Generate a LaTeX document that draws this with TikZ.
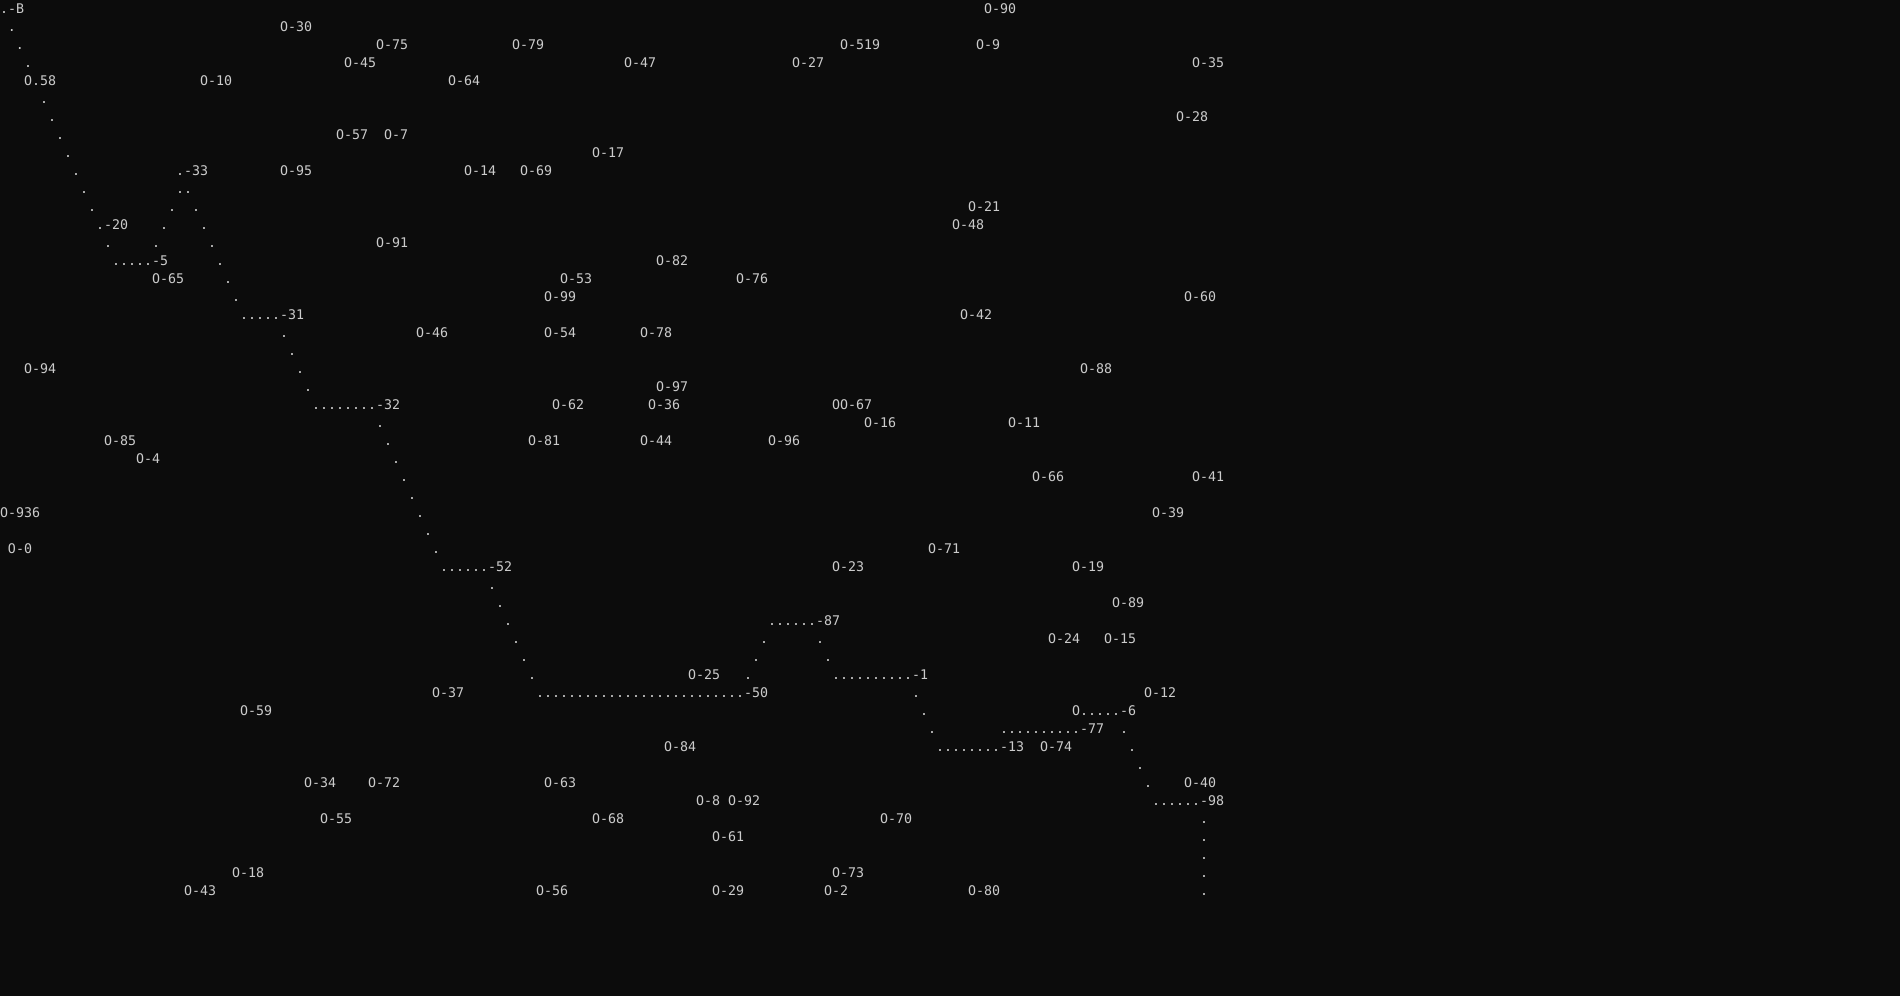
\documentclass[tikz,border=0pt]{standalone}
\usepackage{fontspec}
\usepackage{tikz}
\usepackage{xcolor}
\newfontfamily\termfont{DejaVu Sans Mono}
\definecolor{termbg}{HTML}{0C0C0C}
\definecolor{termfg}{HTML}{CCCCCC}

\begin{document}
\begin{tikzpicture}[x=8pt, y=-18pt,
        cell/.style = {anchor=base west, inner sep=0pt, outer sep=0pt, yshift=-13.5pt,
                       text=termfg, font=\termfont\fontsize{13.29pt}{18pt}\selectfont}
        ]
        \fill[termbg] (0pt,0pt) rectangle (1900pt,-996pt);
        % rows 0-9
        \node[cell] (B) at (0,0) {.-B};
        \node[cell] (90) at (123,0) {O-90};
        \node[cell] (d1) at (1,1) {.};
        \node[cell] (30) at (35,1) {O-30};
        \node[cell] (d2) at (2,2) {.};
        \node[cell] (75) at (47,2) {O-75};
        \node[cell] (79) at (64,2) {O-79};
        \node[cell] (519) at (105,2) {O-519};
        \node[cell] (9) at (122,2) {O-9};
        \node[cell] (d3) at (3,3) {.};
        \node[cell] (45) at (43,3) {O-45};
        \node[cell] (47) at (78,3) {O-47};
        \node[cell] (27) at (99,3) {O-27};
        \node[cell] (35) at (149,3) {O-35};
        \node[cell] (58) at (3,4) {O.58};
        \node[cell] (10) at (25,4) {O-10};
        \node[cell] (64) at (56,4) {O-64};
        \node[cell] (d5) at (5,5) {.};
        \node[cell] (d6) at (6,6) {.};
        \node[cell] (28) at (147,6) {O-28};
        \node[cell] (d7) at (7,7) {.};
        \node[cell] (57) at (42,7) {O-57};
        \node[cell] (7) at (48,7) {O-7};
        \node[cell] (d8) at (8,8) {.};
        \node[cell] (17) at (74,8) {O-17};
        \node[cell] (d9) at (9,9) {.};
        \node[cell] (33) at (22,9) {.-33};
        \node[cell] (95) at (35,9) {O-95};
        \node[cell] (14) at (58,9) {O-14};
        \node[cell] (69) at (65,9) {O-69};
        % rows 10-19
        \node[cell] (d10) at (10,10) {.};
        \node[cell] (d10a) at (22,10) {..};
        \node[cell] (d11) at (11,11) {.};
        \node[cell] (d11a) at (21,11) {.};
        \node[cell] (d11b) at (24,11) {.};
        \node[cell] (21) at (121,11) {O-21};
        \node[cell] (20) at (12,12) {.-20};
        \node[cell] (d12a) at (20,12) {.};
        \node[cell] (d12b) at (25,12) {.};
        \node[cell] (48) at (119,12) {O-48};
        \node[cell] (d13) at (13,13) {.};
        \node[cell] (d13a) at (19,13) {.};
        \node[cell] (d13b) at (26,13) {.};
        \node[cell] (91) at (47,13) {O-91};
        \node[cell] (5) at (14,14) {.....-5};
        \node[cell] (d14) at (27,14) {.};
        \node[cell] (82) at (82,14) {O-82};
        \node[cell] (65) at (19,15) {O-65};
        \node[cell] (d15) at (28,15) {.};
        \node[cell] (53) at (70,15) {O-53};
        \node[cell] (76) at (92,15) {O-76};
        \node[cell] (d16) at (29,16) {.};
        \node[cell] (99) at (68,16) {O-99};
        \node[cell] (60) at (148,16) {O-60};
        \node[cell] (31) at (30,17) {.....-31};
        \node[cell] (42) at (120,17) {O-42};
        \node[cell] (d18) at (35,18) {.};
        \node[cell] (46) at (52,18) {O-46};
        \node[cell] (54) at (68,18) {O-54};
        \node[cell] (78) at (80,18) {O-78};
        \node[cell] (d19) at (36,19) {.};
        % rows 20-29
        \node[cell] (94) at (3,20) {O-94};
        \node[cell] (d20) at (37,20) {.};
        \node[cell] (88) at (135,20) {O-88};
        \node[cell] (d21) at (38,21) {.};
        \node[cell] (97) at (82,21) {O-97};
        \node[cell] (32) at (39,22) {........-32};
        \node[cell] (62) at (69,22) {O-62};
        \node[cell] (36) at (81,22) {O-36};
        \node[cell] (67) at (104,22) {OO-67};
        \node[cell] (d23) at (47,23) {.};
        \node[cell] (16) at (108,23) {O-16};
        \node[cell] (11) at (126,23) {O-11};
        \node[cell] (85) at (13,24) {O-85};
        \node[cell] (d24) at (48,24) {.};
        \node[cell] (81) at (66,24) {O-81};
        \node[cell] (44) at (80,24) {O-44};
        \node[cell] (96) at (96,24) {O-96};
        \node[cell] (4) at (17,25) {O-4};
        \node[cell] (d25) at (49,25) {.};
        \node[cell] (d26) at (50,26) {.};
        \node[cell] (66) at (129,26) {O-66};
        \node[cell] (41) at (149,26) {O-41};
        \node[cell] (d27) at (51,27) {.};
        \node[cell] (936) at (0,28) {O-936};
        \node[cell] (d28) at (52,28) {.};
        \node[cell] (39) at (144,28) {O-39};
        \node[cell] (d29) at (53,29) {.};
        % rows 30-39
        \node[cell] (0) at (1,30) {O-0};
        \node[cell] (d30) at (54,30) {.};
        \node[cell] (71) at (116,30) {O-71};
        \node[cell] (52) at (55,31) {......-52};
        \node[cell] (23) at (104,31) {O-23};
        \node[cell] (19) at (134,31) {O-19};
        \node[cell] (d32) at (61,32) {.};
        \node[cell] (d33) at (62,33) {.};
        \node[cell] (89) at (139,33) {O-89};
        \node[cell] (d34) at (63,34) {.};
        \node[cell] (87) at (96,34) {......-87};
        \node[cell] (d35) at (64,35) {.};
        \node[cell] (d35a) at (95,35) {.};
        \node[cell] (d35b) at (102,35) {.};
        \node[cell] (24) at (131,35) {O-24};
        \node[cell] (15) at (138,35) {O-15};
        \node[cell] (d36) at (65,36) {.};
        \node[cell] (d36a) at (94,36) {.};
        \node[cell] (d36b) at (103,36) {.};
        \node[cell] (d37) at (66,37) {.};
        \node[cell] (25) at (86,37) {O-25};
        \node[cell] (d37a) at (93,37) {.};
        \node[cell] (1) at (104,37) {..........-1};
        \node[cell] (37) at (54,38) {O-37};
        \node[cell] (50) at (67,38) {..........................-50};
        \node[cell] (d38) at (114,38) {.};
        \node[cell] (12) at (143,38) {O-12};
        \node[cell] (59) at (30,39) {O-59};
        \node[cell] (d39) at (115,39) {.};
        \node[cell] (6) at (134,39) {O.....-6};
        % rows 40-49
        \node[cell] (d40) at (116,40) {.};
        \node[cell] (77) at (125,40) {..........-77};
        \node[cell] (d40a) at (140,40) {.};
        \node[cell] (84) at (83,41) {O-84};
        \node[cell] (13) at (117,41) {........-13};
        \node[cell] (74) at (130,41) {O-74};
        \node[cell] (d41) at (141,41) {.};
        \node[cell] (d42) at (142,42) {.};
        \node[cell] (34) at (38,43) {O-34};
        \node[cell] (72) at (46,43) {O-72};
        \node[cell] (63) at (68,43) {O-63};
        \node[cell] (d43) at (143,43) {.};
        \node[cell] (40) at (148,43) {O-40};
        \node[cell] (8) at (87,44) {O-8};
        \node[cell] (92) at (91,44) {O-92};
        \node[cell] (98) at (144,44) {......-98};
        \node[cell] (55) at (40,45) {O-55};
        \node[cell] (68) at (74,45) {O-68};
        \node[cell] (70) at (110,45) {O-70};
        \node[cell] (d45) at (150,45) {.};
        \node[cell] (61) at (89,46) {O-61};
        \node[cell] (d46) at (150,46) {.};
        \node[cell] (d47) at (150,47) {.};
        \node[cell] (18) at (29,48) {O-18};
        \node[cell] (73) at (104,48) {O-73};
        \node[cell] (d48) at (150,48) {.};
        \node[cell] (43) at (23,49) {O-43};
        \node[cell] (56) at (67,49) {O-56};
        \node[cell] (29) at (89,49) {O-29};
        \node[cell] (2) at (103,49) {O-2};
        \node[cell] (80) at (121,49) {O-80};
        \node[cell] (d49) at (150,49) {.};
\end{tikzpicture}
\end{document}
